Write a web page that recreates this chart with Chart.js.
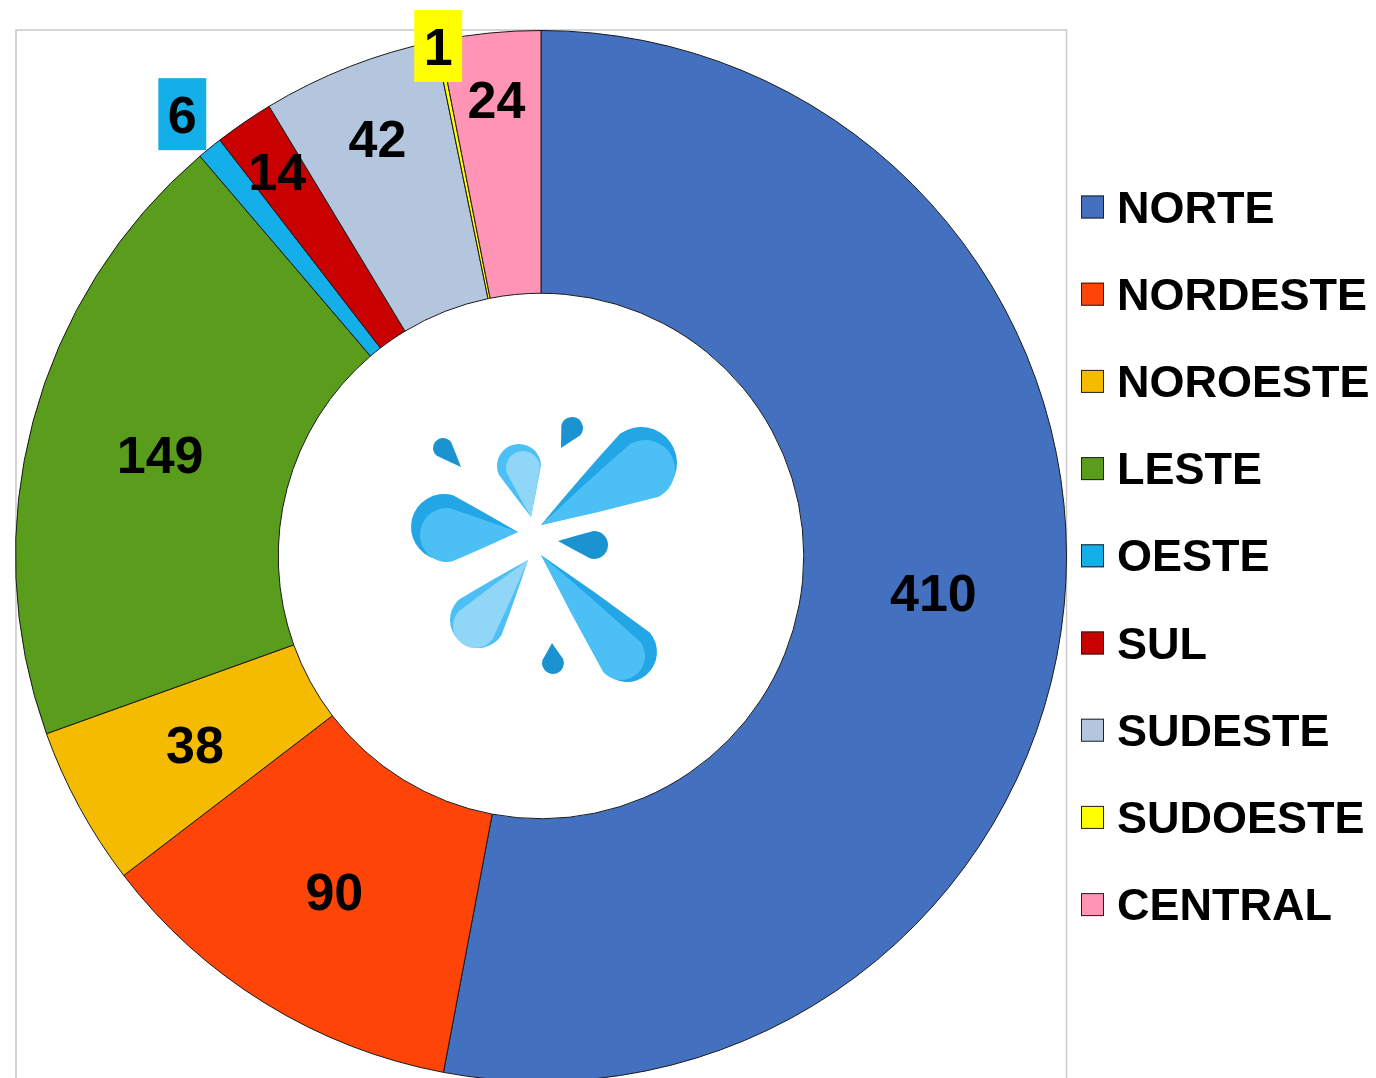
<!DOCTYPE html>
<html>
<head>
<meta charset="utf-8">
<script src="https://cdn.jsdelivr.net/npm/chart.js@4/dist/chart.umd.min.js"></script>
<style>
    html, body { margin: 0; padding: 0; background: #fff; overflow: hidden; }
    #wrap { width: 1376px; height: 1078px; overflow: hidden; }
</style>
</head>
<body>
<div id="wrap"><canvas id="regionChart" width="1376" height="1100"></canvas></div>
<script>
// Data
const regions = ['NORTE', 'NORDESTE', 'NOROESTE', 'LESTE', 'OESTE', 'SUL', 'SUDESTE', 'SUDOESTE', 'CENTRAL'];
const counts = [410, 90, 38, 149, 6, 14, 42, 1, 24];
const sliceColors = ['#4371C0', '#FF4408', '#F4BB00', '#5A9C1C', '#14AEE8', '#C80000', '#B3C6DD', '#FFFF00', '#FF94B4'];

// label distance from centre, as a share of the outer radius (small slices sit further out)
const labelRadius = [0.75, 0.75, 0.75, 0.75, 1.083, 0.888, 0.853, 0.99, 0.873];
// labels that sit outside the ring get a box in the slice colour
const labelBoxed = [false, false, false, false, true, false, false, true, false];

const FONT = '"Liberation Sans", Arial, sans-serif';

// thin grey frame round the plot area
const frameBox = {
    id: 'frameBox',
    beforeDatasetsDraw(chart) {
        const ctx = chart.ctx;
        ctx.save();
        ctx.strokeStyle = '#c8c8c8';
        ctx.lineWidth = 1.5;
        ctx.strokeRect(16, 30, 1050.5, 1200);
        ctx.restore();
    }
};

// water splash logo in the hole
function drop(ctx, tx, ty, cx, cy, r, color) {
    const a = Math.atan2(ty - cy, tx - cx);
    const d = Math.hypot(tx - cx, ty - cy);
    const phi = Math.acos(Math.min(r / d, 0.98)) + 0.25;
    const p1x = cx + Math.cos(a + phi) * r, p1y = cy + Math.sin(a + phi) * r;
    const p2x = cx + Math.cos(a - phi) * r, p2y = cy + Math.sin(a - phi) * r;
    // control points bulge the sides a little
    const mx = (tx + cx) / 2, my = (ty + cy) / 2;
    const nx = -Math.sin(a), ny = Math.cos(a);
    const k = r * 0.55;
    ctx.beginPath();
    ctx.moveTo(tx, ty);
    ctx.quadraticCurveTo(mx + nx * k, my + ny * k, p1x, p1y);
    ctx.arc(cx, cy, r, a + phi, a - phi);
    ctx.quadraticCurveTo(mx - nx * k, my - ny * k, tx, ty);
    ctx.closePath();
    ctx.fillStyle = color;
    ctx.fill();
}

const splashLogo = {
    id: 'splashLogo',
    afterDatasetsDraw(chart) {
        const arc = chart.getDatasetMeta(0).data[0];
        const ox = arc.x, oy = arc.y;
        const ctx = chart.ctx;
        const dark = '#1b93d1', mid = '#22a6e6', light = '#4cc0f5', pale = '#8fd6f7';
        // [tipX, tipY, bulbX, bulbY, radius, colour] relative to the centre
        const drops = [
            [0, -31, 100, -93, 36, mid], [0, -31, 104, -86, 30, light],
            [-23, -24, -97, -29, 33, mid], [-23, -24, -94, -21, 27, light],
            [-10, -39, -22, -90, 22, light], [-10, -39, -18, -88, 17, pale],
            [20, -108, 31, -128, 11, dark],
            [-80, -89, -98, -108, 10, dark],
            [17, -15, 53, -11, 14, dark],
            [-13, 4, -63, 64, 28, light], [-13, 4, -66, 70, 22, pale],
            [0, -1, 86, 96, 30, mid], [0, -1, 80, 100, 24, light],
            [11, 87, 12, 107, 11, dark]
        ];
        ctx.save();
        drops.forEach(d => drop(ctx, ox + d[0], oy + d[1], ox + d[2], oy + d[3], d[4], d[5]));
        ctx.restore();
    }
};

// value labels on the slices
const sliceLabels = {
    id: 'sliceLabels',
    afterDatasetsDraw(chart) {
        const ctx = chart.ctx;
        const meta = chart.getDatasetMeta(0);
        const size = 52;
        ctx.save();
        ctx.font = `bold ${size}px ${FONT}`;
        ctx.textAlign = 'center';
        ctx.textBaseline = 'alphabetic';
        meta.data.forEach((arc, i) => {
            const p = arc.getProps(['x', 'y', 'startAngle', 'endAngle', 'outerRadius']);
            const a = (p.startAngle + p.endAngle) / 2;
            const r = p.outerRadius * labelRadius[i];
            const x = p.x + Math.cos(a) * r;
            const y = p.y + Math.sin(a) * r;
            const text = String(counts[i]);
            if (labelBoxed[i]) {
                const w = ctx.measureText(text).width + 19;
                ctx.fillStyle = sliceColors[i];
                ctx.fillRect(x - w / 2, y - 36, w, 72);
            }
            ctx.fillStyle = '#000';
            ctx.fillText(text, x, y + size * 0.358);
        });
        ctx.restore();
    }
};

// legend on the right
const sideLegend = {
    id: 'sideLegend',
    afterDraw(chart) {
        const ctx = chart.ctx;
        ctx.save();
        ctx.font = `bold 45px ${FONT}`;
        ctx.textBaseline = 'alphabetic';
        regions.forEach((name, i) => {
            const cy = 207 + i * 87.2;
            ctx.fillStyle = sliceColors[i];
            ctx.fillRect(1081, cy - 11.5, 23, 23);
            ctx.strokeStyle = '#222';
            ctx.lineWidth = 1;
            ctx.strokeRect(1081.5, cy - 11, 22, 22);
            ctx.fillStyle = '#000';
            ctx.fillText(name, 1117, cy + 15.5);
        });
        ctx.restore();
    }
};

const chart = new Chart(document.getElementById('regionChart'), {
    type: 'doughnut',
    data: {
        labels: regions,
        datasets: [{
            data: counts,
            backgroundColor: sliceColors,
            borderColor: '#1a1a1a',
            borderWidth: 1
        }]
    },
    options: {
        responsive: false,
        animation: false,
        devicePixelRatio: 1,
        cutout: '50%',
        layout: { padding: { left: 15, top: 30, right: 309, bottom: 18 } },
        plugins: {
            legend: { display: false },
            tooltip: { enabled: false }
        }
    },
    plugins: [frameBox, splashLogo, sliceLabels, sideLegend]
});
</script>
</body>
</html>
